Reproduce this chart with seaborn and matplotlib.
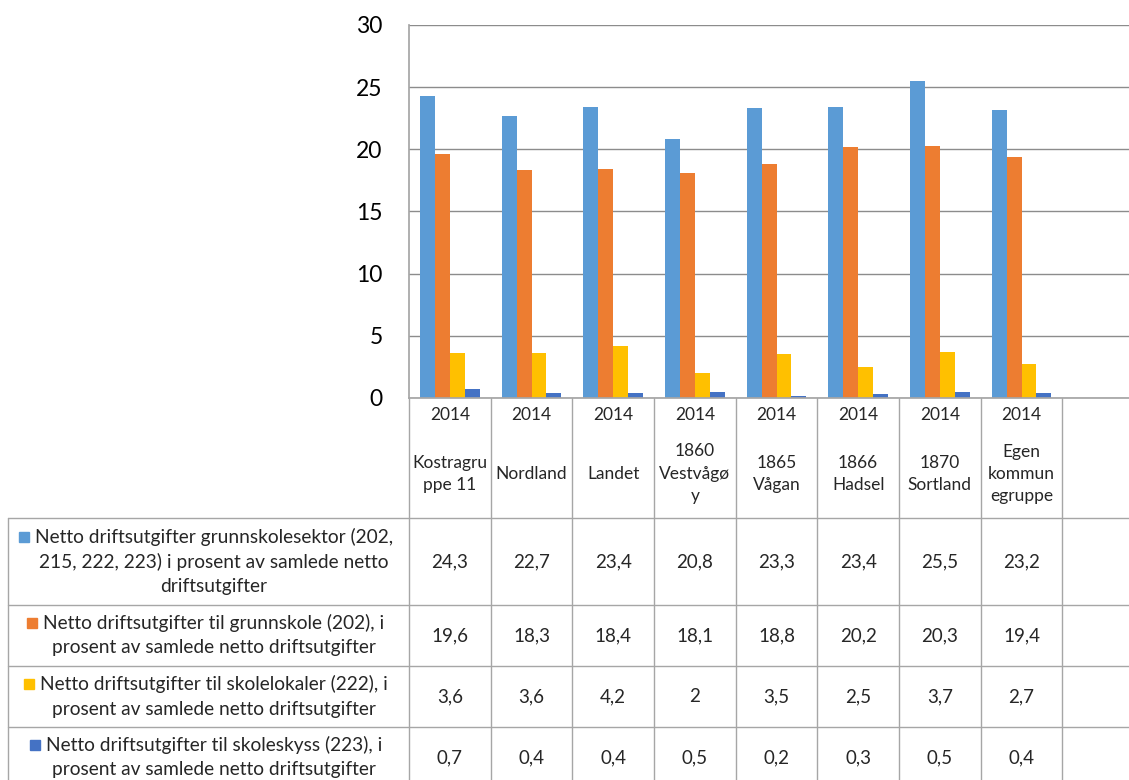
import matplotlib
matplotlib.use("Agg")
import matplotlib.pyplot as plt
import matplotlib.transforms as mtransforms
import seaborn as sns
import pandas as pd

# data (KOSTRA 2014)
categories = ["Kostragruppe 11", "Nordland", "Landet", "1860 Vestvågøy",
              "1865 Vågan", "1866 Hadsel", "1870 Sortland", "Egen kommunegruppe"]
header_labels = ["Kostragru\nppe 11", "Nordland", "Landet", "1860\nVestvågø\ny",
                 "1865\nVågan", "1866\nHadsel", "1870\nSortland", "Egen\nkommun\negruppe"]
year = "2014"

series = ["grunnskolesektor", "grunnskole", "skolelokaler", "skoleskyss"]
legend_lines = [
    ["Netto driftsutgifter grunnskolesektor (202,",
     "215, 222, 223) i prosent av samlede netto",
     "driftsutgifter"],
    ["Netto driftsutgifter til grunnskole (202), i",
     "prosent av samlede netto driftsutgifter"],
    ["Netto driftsutgifter til skolelokaler (222), i",
     "prosent av samlede netto driftsutgifter"],
    ["Netto driftsutgifter til skoleskyss (223), i",
     "prosent av samlede netto driftsutgifter"],
]
grunnskolesektor = [24.3, 22.7, 23.4, 20.8, 23.3, 23.4, 25.5, 23.2]
grunnskole = [19.6, 18.3, 18.4, 18.1, 18.8, 20.2, 20.3, 19.4]
skolelokaler = [3.6, 3.6, 4.2, 2.0, 3.5, 2.5, 3.7, 2.7]
skoleskyss = [0.7, 0.4, 0.4, 0.5, 0.2, 0.3, 0.5, 0.4]
colors = ["#5B9BD5", "#ED7D31", "#FFC000", "#4472C4"]

values = [grunnskolesektor, grunnskole, skolelokaler, skoleskyss]
rows = []
for s, vals in zip(series, values):
    for c, v in zip(categories, vals):
        rows.append({"kategori": c, "serie": s, "verdi": v})
df = pd.DataFrame(rows)

sns.set_theme(style="white")
plt.rcParams["font.family"] = ["Lato", "DejaVu Sans"]

W, H = 1129, 780
fig = plt.figure(figsize=(W / 100, H / 100), dpi=100)
ax = fig.add_axes([409 / W, 1 - 398 / H, (1144 - 409) / W, (398 - 25) / H])

sns.barplot(data=df, x="kategori", y="verdi", hue="serie", order=categories,
            hue_order=series, palette=colors, saturation=1, width=0.73,
            linewidth=0, legend=False, ax=ax)

ax.set_xlim(-0.5, len(categories) + 0.5)
ax.set_ylim(0, 30)
ax.set_yticks(range(0, 31, 5))
ax.set_xticks([])
ax.set_xlabel("")
ax.set_ylabel("")
ax.yaxis.grid(True, color="#8C8C8C", lw=1)
ax.set_axisbelow(True)
ax.tick_params(axis="y", length=0, pad=19, labelsize=16.5, labelcolor="black")
for side in ["top", "right"]:
    ax.spines[side].set_visible(False)
ax.spines["left"].set_color("#A6A6A6")
ax.spines["bottom"].set_color("#A6A6A6")

# data table under the chart
tab = fig.add_axes([0, 0, 1, 1], zorder=-1)
tab.set_xlim(0, W)
tab.set_ylim(H, 0)
tab.axis("off")
trans = mtransforms.blended_transform_factory(ax.transData, tab.transData)
line_kw = dict(color="#A6A6A6", lw=1, clip_on=False)

row_edges = [518, 605, 666, 727, 788]
for y in row_edges[:-1]:
    tab.plot([8, W], [y, y], **line_kw)
tab.plot([8, 8], [518, H], **line_kw)
for k in range(len(categories) + 2):
    tab.plot([k - 0.5, k - 0.5], [398, H], transform=trans, **line_kw)

for i, lab in enumerate(header_labels):
    tab.text(i, 415, year, transform=trans, ha="center", va="center", fontsize=12.5)
    tab.text(i, 474, lab, transform=trans, ha="center", va="center",
             fontsize=12.5, linespacing=1.5)

fig.canvas.draw()
renderer = fig.canvas.get_renderer()
for r, (lines, vals, col) in enumerate(zip(legend_lines, values, colors)):
    yc = (row_edges[r] + row_edges[r + 1]) / 2
    n = len(lines)
    first = None
    for j, ln in enumerate(lines):
        yl = yc + (j - (n - 1) / 2) * 25
        t = tab.text(214, yl, ln, ha="center", va="center", fontsize=13.8)
        if j == 0:
            first = t
    bb = first.get_window_extent(renderer)
    tab.plot(bb.x0 - 11, yc - (n - 1) / 2 * 25, marker="s", ms=7,
             color=col, clip_on=False)
    for i, v in enumerate(vals):
        tab.text(i, yc, f"{v:g}".replace(".", ","), transform=trans,
                 ha="center", va="center", fontsize=13.5)

fig.savefig("out.png", dpi=100)
